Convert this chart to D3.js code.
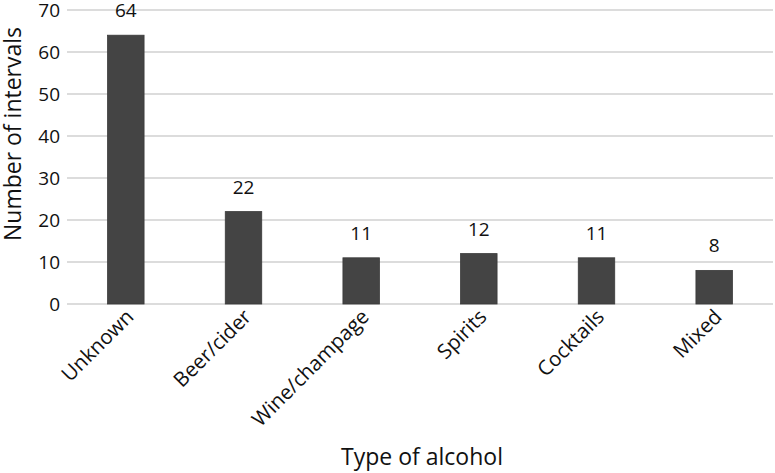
<!DOCTYPE html>
<html>
<head>
<meta charset="utf-8">
<script src="https://cdn.jsdelivr.net/npm/d3@7/dist/d3.min.js"></script>
<style>
  html, body { margin: 0; padding: 0; background: #fff; }
  svg { display: block; font-family: "Open Sans", Lato, sans-serif; }
</style>
</head>
<body>
<svg id="chart" width="775" height="473"></svg>
<script>
const categories = ["Unknown", "Beer/cider", "Wine/champage", "Spirits", "Cocktails", "Mixed"];
const values = [64, 22, 11, 12, 11, 8];
const yTicks = [0, 10, 20, 30, 40, 50, 60, 70];

const FONT = "'Open Sans', Lato, sans-serif";
const svg = d3.select("#chart");
const margin = { left: 67, right: 2, top: 10, bottom: 169 };
const W = 775, H = 473;

const x = d3.scaleBand()
  .domain(categories)
  .range([margin.left, W - margin.right])
  .paddingInner(0.69)
  .paddingOuter(0.345);

const y = d3.scaleLinear()
  .domain([0, 70])
  .range([H - margin.bottom, margin.top]);

// gridlines
svg.append("g")
  .selectAll("line")
  .data(yTicks)
  .join("line")
  .attr("x1", margin.left)
  .attr("x2", W - margin.right)
  .attr("y1", d => y(d))
  .attr("y2", d => y(d))
  .attr("stroke", "#d0d0d0")
  .attr("stroke-width", 1.5);

// y axis labels
const yAxis = d3.axisLeft(y).tickValues(yTicks).tickSize(0).tickPadding(7);
const gy = svg.append("g")
  .attr("transform", `translate(${margin.left},0)`)
  .call(yAxis);
gy.select(".domain").remove();
gy.selectAll("text")
  .attr("font-size", 19)
  .attr("fill", "#111")
  .attr("font-family", FONT);

// bars
svg.append("g")
  .selectAll("rect")
  .data(values)
  .join("rect")
  .attr("x", (d, i) => x(categories[i]))
  .attr("y", d => y(d))
  .attr("width", x.bandwidth())
  .attr("height", d => y(0) - y(d))
  .attr("fill", "#444444")
  .attr("stroke", "#3a3a3a")
  .attr("stroke-width", 0.8);

// value labels
svg.append("g")
  .selectAll("text")
  .data(values)
  .join("text")
  .attr("x", (d, i) => x(categories[i]) + x.bandwidth() / 2)
  .attr("y", d => y(d) - 18)
  .attr("text-anchor", "middle")
  .attr("font-size", 19)
  .attr("fill", "#111")
  .text(d => d);

// x axis labels
const xAxis = d3.axisBottom(x).tickSize(0).tickPadding(0);
const gx = svg.append("g")
  .attr("transform", `translate(0,${y(0)})`)
  .call(xAxis);
gx.select(".domain").remove();
gx.selectAll("text")
  .attr("font-size", 20.5)
  .attr("fill", "#111")
  .attr("font-family", FONT)
  .attr("text-anchor", "end")
  .attr("dy", null)
  .attr("y", 0)
  .attr("transform", "translate(9,14) rotate(-45)");

// axis titles
svg.append("text")
  .attr("x", 422)
  .attr("y", 465)
  .attr("text-anchor", "middle")
  .attr("font-size", 23)
  .attr("fill", "#111")
  .text("Type of alcohol");

svg.append("text")
  .attr("transform", `translate(21,134) rotate(-90)`)
  .attr("text-anchor", "middle")
  .attr("font-size", 23)
  .attr("fill", "#111")
  .text("Number of intervals");
</script>
</body>
</html>
